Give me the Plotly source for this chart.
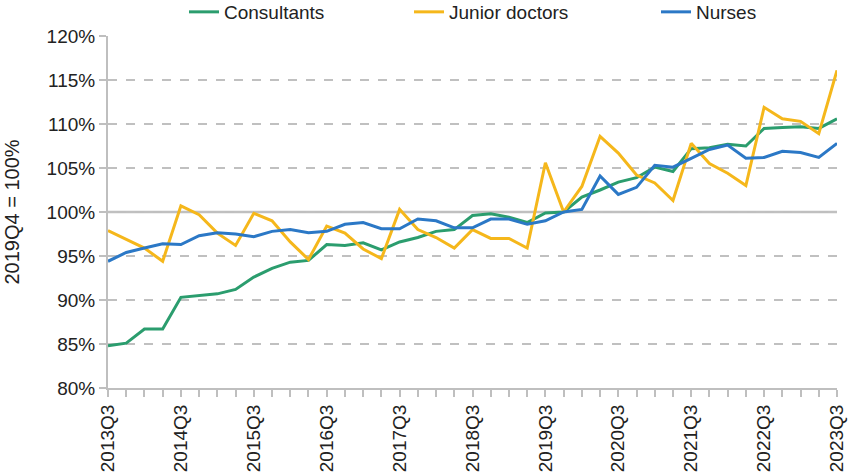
import plotly.graph_objects as go

quarters = []
for y in range(2013, 2024):
    for q in range(1, 5):
        if (y == 2013 and q < 3) or (y == 2023 and q > 3):
            continue
        quarters.append(f"{y}Q{q}")

consultants = [84.8, 85.1, 86.7, 86.7, 90.3, 90.5, 90.7, 91.2, 92.6, 93.6,
               94.3, 94.5, 96.3, 96.2, 96.5, 95.7, 96.6, 97.1, 97.8, 98.0,
               99.6, 99.8, 99.4, 98.8, 99.9, 100.0, 101.7, 102.5, 103.4, 103.9,
               105.1, 104.6, 107.2, 107.3, 107.7, 107.5, 109.5, 109.6, 109.7, 109.5,
               110.6]
junior_doctors = [97.9, 96.9, 95.9, 94.4, 100.7, 99.7, 97.6, 96.2, 99.85, 99.0,
                  96.6, 94.6, 98.4, 97.6, 95.8, 94.7, 100.3, 98.0, 97.1, 95.9,
                  98.0, 97.0, 97.0, 95.9, 105.6, 100.0, 102.9, 108.6, 106.7, 104.2,
                  103.3, 101.3, 107.8, 105.5, 104.4, 103.0, 111.9, 110.6, 110.3, 108.9,
                  116.1]
nurses = [94.4, 95.4, 95.9, 96.4, 96.3, 97.3, 97.65, 97.5, 97.2, 97.8,
          98.0, 97.65, 97.8, 98.6, 98.8, 98.1, 98.1, 99.2, 99.0, 98.2,
          98.2, 99.2, 99.2, 98.6, 99.0, 100.0, 100.3, 104.1, 102.0, 102.8,
          105.3, 105.1, 106.1, 107.1, 107.6, 106.1, 106.2, 106.9, 106.75, 106.2,
          107.8]

series = [("Consultants", consultants, "#2b9d6e", "legend"),
          ("Junior doctors", junior_doctors, "#f5b71b", "legend2"),
          ("Nurses", nurses, "#2b78c6", "legend3")]

xs = list(range(len(quarters)))
tick_idx = [i for i, q in enumerate(quarters) if q.endswith("Q3")]

fig = go.Figure()
for name, vals, color, lg in series:
    fig.add_trace(go.Scatter(x=xs, y=vals, mode="lines", name=name,
                             line=dict(color=color, width=3), cliponaxis=False,
                             legend=lg, showlegend=True))

fig.add_shape(type="line", xref="paper", x0=0, x1=1, yref="y", y0=100, y1=100,
              line=dict(color="#bfbfbf", width=2.5), layer="below")

FAM = "Liberation Sans, Arial, sans-serif"
font = dict(family=FAM, size=19, color="#222222")
PW = 848 - 108 - 11
legend_common = dict(orientation="h", yanchor="middle", y=1 + 24 / 352, xanchor="left",
                     font=dict(family=FAM, size=19, color="#222222"),
                     bgcolor="rgba(0,0,0,0)", itemwidth=30)
fig.update_layout(
    width=848, height=474,
    margin=dict(l=108, r=11, t=36, b=86, autoexpand=False),
    paper_bgcolor="white", plot_bgcolor="white",
    font=font,
    showlegend=True,
    legend=dict(legend_common, x=(184 - 108) / PW),
    legend2=dict(legend_common, x=(409 - 108) / PW),
    legend3=dict(legend_common, x=(656 - 108) / PW),
    xaxis=dict(range=[0, len(quarters) - 1], tickvals=tick_idx,
               ticktext=[quarters[i] for i in tick_idx], tickangle=-90,
               showgrid=False, zeroline=False, showline=True,
               linecolor="#bfbfbf", linewidth=2, ticks="outside",
               ticklen=7, tickcolor="#bfbfbf", tickwidth=1.5,
               minor=dict(tickvals=xs, ticks="outside", ticklen=7,
                          tickcolor="#bfbfbf", tickwidth=1.5, showgrid=False),
               tickfont=dict(size=19)),
    yaxis=dict(range=[80, 120], dtick=5, ticksuffix="%",
               showgrid=True, gridcolor="#c0c0c0", griddash="dash", gridwidth=1.5,
               zeroline=False, showline=True, linecolor="#bfbfbf", linewidth=2,
               ticks="outside", ticklen=7, tickcolor="#bfbfbf", tickwidth=1.5,
               title=dict(text="2019Q4 = 100%", standoff=22, font=dict(size=20)),
               tickfont=dict(size=19)),
)

fig.write_html("out.html")
